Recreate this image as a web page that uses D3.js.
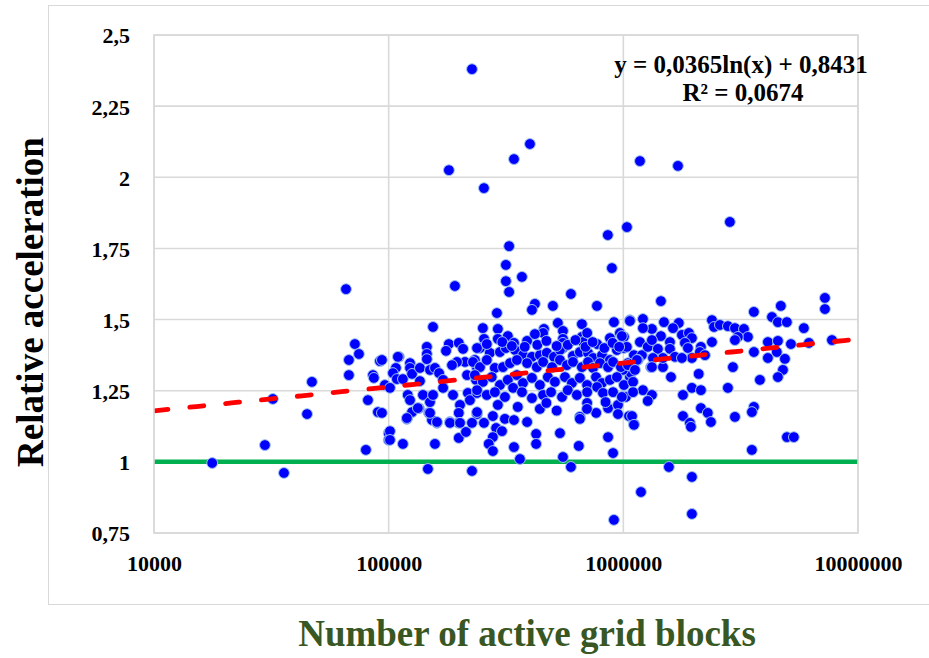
<!DOCTYPE html>
<html>
<head>
<meta charset="utf-8">
<script src="https://cdn.jsdelivr.net/npm/d3@7"></script>
<style>
  html, body { margin: 0; padding: 0; background: #fff; }
  svg { display: block; }
</style>
</head>
<body>
<svg id="chart" width="929" height="658"></svg>
<script>
// Simulation runs: [number of active grid blocks, relative acceleration]
const observations = [
  [17700,0.996],[29700,1.059],[32100,1.221],[35800,0.961],[44900,1.168],[47100,1.281],
  [65800,1.607],[71800,1.414],[74700,1.379],[67700,1.358],[67700,1.305],[85700,1.305],
  [86500,1.295],[91800,1.354],[81600,1.217],[90000,1.175],[93600,1.172],[80000,1.042],
  [96400,1.270],[100000,1.101],[100000,1.077],
  [226500,2.380],[180600,2.025],[342000,2.064],[400000,2.117],[254700,1.962],[326000,1.758],
  [316000,1.692],[859000,1.797],[1036000,1.825],[894000,1.681],[1177000,2.057],[1709000,2.040],
  [2845000,1.843],[316000,1.635],[326000,1.597],[369800,1.650],[191600,1.618],[598000,1.590],
  [420000,1.555],[408000,1.534],[501000,1.548],[772000,1.548],[289300,1.523],[154500,1.474],
  [1067000,1.498],[912000,1.491],[526000,1.488],[666000,1.484],[252000,1.470],[292000,1.467],
  [459000,1.467],[455000,1.453],[553000,1.460],[255000,1.432],[292000,1.432],[322000,1.442],
  [342000,1.418],[389000,1.425],[420000,1.449],[553000,1.432],[553000,1.418],[553000,1.400],
  [666000,1.439],[673000,1.421],[701000,1.453],[773000,1.414],[877000,1.435],[967000,1.453],
  [1006000,1.439],[145500,1.404],[180500,1.414],[199000,1.418],[207500,1.397],[245000,1.400],
  [175600,1.390],[110600,1.369],[93600,1.358],
  [101300,1.108],[101300,1.077],[115000,1.063],[119600,1.151],[125800,1.175],[134600,1.189],
  [148500,1.172],[153000,1.147],[160700,1.137],[157500,1.063],[147000,0.975],[182500,1.140],
  [199000,1.137],[199000,1.084],[213500,1.105],[238000,1.168],[226500,0.968],[254800,1.137],
  [278000,1.161],[287000,1.119],[304000,1.108],[278000,1.087],[267000,1.063],[278000,1.038],
  [313000,1.151],[342000,1.147],[342000,1.052],[362600,1.010],[389000,1.140],[425000,1.098],
  [425000,1.063],[441000,1.186],[537000,1.101],[553000,1.017],[598000,0.982],[646000,1.056],
  [653000,1.158],[653000,1.151],[701000,1.207],[766000,1.172],[861000,1.189],[861000,1.087],
  [904000,1.031],[949000,1.200],[949000,1.168],[912000,0.796],[1057000,1.161],[1110000,1.133],
  [1446000,1.565],[7230000,1.576],[7230000,1.537],[3600000,1.527],[4690000,1.548],[4300000,1.509],
  [4558000,1.491],[4975000,1.491],[5880000,1.470],[1067000,1.495],[1212000,1.502],[1490000,1.491],
  [1723000,1.488],[2386000,1.498],[2435000,1.474],[2580000,1.481],[2790000,1.477],[2990000,1.470],
  [3266000,1.467],[3395000,1.439],[3077000,1.439],[2990000,1.428],[1628000,1.470],[1324000,1.467],
  [1212000,1.470],[986000,1.442],[1446000,1.442],[1777000,1.446],[1903000,1.453],[1960000,1.435],
  [2386000,1.421],[2141000,1.404],[4131000,1.421],[4558000,1.425],[5179000,1.414],[6178000,1.418],
  [7746000,1.428],[3602000,1.386],[4131000,1.365],[4509000,1.386],[4881000,1.362],[4788000,1.323],
  [4558000,1.298],[3820000,1.288],[2931000,1.333],[2095000,1.309],[1596000,1.298],[1311000,1.333],
  [1475000,1.333],[1067000,1.298],[1078000,1.312],[2790000,1.260],[1960000,1.260],[2141000,1.252],
  [1795000,1.235],[1212000,1.252],[1324000,1.235],[1271000,1.214],[1025000,1.228],[2141000,1.189],
  [3602000,1.193],[3532000,1.175],[2290000,1.172],[2362000,1.140],[1795000,1.161],[2990000,1.158],
  [1922000,1.137],[1941000,1.123],[1089000,1.161],[1110000,1.130],[4980000,1.087],[5330000,1.087],
  [3530000,1.042],[1564000,0.982],[1960000,0.947],[1189000,0.894],[1960000,0.817],
  [1007000,1.400],[1110000,1.375],[1177000,1.421],[1200000,1.375],[1271000,1.404],[1324000,1.428],
  [1404000,1.397],[1580000,1.421],[1580000,1.397],[1830000,1.418],[1885000,1.400],[1660000,1.369],
  [1475000,1.365],[1337000,1.365],[1324000,1.333],[1154000,1.358],[1046000,1.347],[1960000,1.365],
  [1777000,1.365],[2120000,1.386],[2228000,1.375],[996000,1.323],
  [109500,1.369],[107400,1.330],[104300,1.312],[108400,1.291],[101300,1.260],[115000,1.291],
  [123300,1.347],[123300,1.330],[125800,1.309],[135900,1.330],[145500,1.379],[145500,1.361],
  [150000,1.323],[157500,1.330],[164000,1.312],[170600,1.288],[211500,1.351],[195500,1.351],
  [186200,1.340],[215800,1.305],[233000,1.358],[238000,1.330],[238000,1.400],[135900,1.284],
  [120600,1.235],[123300,1.217],[140000,1.235],[150000,1.210],[133200,1.189],[119600,1.154],
  [150000,1.172],[160700,1.140],[154500,1.235],[170600,1.260],[188000,1.235],[201400,1.200],
  [199000,1.172],[182500,1.137],[201400,1.137],[226500,1.137],[217600,1.242],[222000,1.217],
  [238000,1.242],[235600,1.288],[238000,1.175],
  [270000,1.383],[298000,1.386],[316000,1.400],[345500,1.393],[373500,1.375],[408000,1.369],
  [441000,1.375],[472000,1.383],[506500,1.369],[537000,1.393],[610000,1.372],[653000,1.386],
  [707000,1.383],[743000,1.365],[811000,1.375],[877000,1.358],[939000,1.393],[1035000,1.404],
  [1143000,1.358],
  [228700,1.351],[245000,1.333],[262000,1.358],[283500,1.330],[307000,1.333],[329000,1.347],
  [352000,1.358],[389000,1.347],[428000,1.333],[455000,1.351],[497000,1.333],[537000,1.358],
  [575000,1.340],[610000,1.351],[666000,1.333],[707000,1.351],[743000,1.330],[795000,1.347],
  [861000,1.333],[904000,1.351],[977000,1.333],[1046000,1.340],[1121000,1.323],
  [233000,1.305],[252000,1.281],[275000,1.298],[298000,1.270],[322000,1.288],[352000,1.305],
  [373500,1.277],[408000,1.295],[441000,1.270],[477000,1.298],[511000,1.281],[564000,1.298],
  [604000,1.277],[653000,1.295],[701000,1.270],[765000,1.298],[811000,1.277],[877000,1.288],
  [939000,1.298],[1006000,1.270],[1100000,1.281],
  [238000,1.252],[262000,1.235],[283500,1.245],[313000,1.228],[339000,1.260],[370000,1.245],
  [408000,1.224],[455000,1.235],[492000,1.245],[548000,1.228],[580000,1.252],[634000,1.235],
  [701000,1.245],[773000,1.263],[819000,1.242],[904000,1.245],[986000,1.228],[1100000,1.245],
  [262000,1.414],[305000,1.421],[335000,1.407],[380000,1.404],[430000,1.411],[470000,1.425],
  [520000,1.407],[580000,1.411],[625000,1.428],[690000,1.404],[740000,1.421],[830000,1.400],
  [900000,1.418],[960000,1.404],
  [292000,1.200],[355000,1.193],[470000,1.207],[520000,1.180],[700000,1.186],[840000,1.210]
];

const xTickValues = [10000, 100000, 1000000, 10000000];
const yTickValues = [0.75, 1, 1.25, 1.5, 1.75, 2, 2.25, 2.5];

// Logarithmic trend fitted to the runs: y = a·ln(x) + b
const trendSlope = 0.0365;
const trendIntercept = 0.8431;
const trendR2 = 0.0674;
const referenceLevel = 1;

const xTitle = "Number of active grid blocks";
const yTitle = "Relative acceleration";

const svg = d3.select("#chart");
const plot = { left: 154, right: 858, top: 35, bottom: 533 };

const x = d3.scaleLog().domain([1e4, 1e7]).range([plot.left, plot.right]);
const y = d3.scaleLinear().domain([0.75, 2.5]).range([plot.bottom, plot.top]);

const commaLocale = d3.formatLocale({ decimal: ",", thousands: "", grouping: [3], currency: ["", ""] });
const fmtY = commaLocale.format("~g");
const fmtX = d3.format("d");

const serif = "'Liberation Serif', 'Times New Roman', serif";
const grid = "#d9d9d9";

// outer chart frame
svg.append("rect")
  .attr("x", 48.5).attr("y", 5.5).attr("width", 884).attr("height", 599)
  .attr("fill", "#fff").attr("stroke", grid).attr("stroke-width", 1);

// gridlines
svg.append("g").selectAll("line").data(yTickValues).join("line")
  .attr("x1", plot.left).attr("x2", plot.right)
  .attr("y1", d => y(d)).attr("y2", d => y(d))
  .attr("stroke", grid).attr("stroke-width", 1.6);

svg.append("g").selectAll("line").data(xTickValues).join("line")
  .attr("y1", plot.top).attr("y2", plot.bottom)
  .attr("x1", d => x(d)).attr("x2", d => x(d))
  .attr("stroke", grid).attr("stroke-width", 1.6);

// axes (labels only)
const yAxis = svg.append("g")
  .attr("transform", `translate(${plot.left - 24},0)`)
  .call(d3.axisLeft(y).tickValues(yTickValues).tickFormat(fmtY).tickSize(0).tickPadding(0));
yAxis.select(".domain").remove();
yAxis.selectAll("text")
  .attr("font-family", serif).attr("font-weight", "bold").attr("font-size", 22)
  .attr("fill", "#000").attr("dy", "0.36em");

const xAxis = svg.append("g")
  .attr("transform", `translate(0,${plot.bottom + 22})`)
  .call(d3.axisBottom(x).tickValues(xTickValues).tickFormat(fmtX).tickSize(0).tickPadding(0));
xAxis.select(".domain").remove();
xAxis.selectAll("text")
  .attr("font-family", serif).attr("font-weight", "bold").attr("font-size", 22)
  .attr("fill", "#000").attr("dy", "0.71em");

svg.append("clipPath").attr("id", "plot-clip")
  .append("rect").attr("x", plot.left).attr("y", plot.top)
  .attr("width", plot.right - plot.left).attr("height", plot.bottom - plot.top);

// reference level y = 1
svg.append("line")
  .attr("x1", plot.left).attr("x2", plot.right)
  .attr("y1", y(referenceLevel)).attr("y2", y(referenceLevel))
  .attr("stroke", "#00b050").attr("stroke-width", 4.5);

// scatter points
svg.append("g").selectAll("circle").data(observations).join("circle")
  .attr("cx", d => x(d[0])).attr("cy", d => y(d[1]))
  .attr("r", 5.4)
  .attr("fill", "#0000ff")
  .attr("stroke", "#9ec3f0").attr("stroke-width", 1);

// logarithmic trendline
const trendX = d3.range(0, 101).map(i => Math.pow(10, 4 + 3 * i / 100));
const trendLine = d3.line()
  .x(d => x(d))
  .y(d => y(trendSlope * Math.log(d) + trendIntercept));
svg.append("path")
  .datum(trendX)
  .attr("d", trendLine)
  .attr("clip-path", "url(#plot-clip)")
  .attr("fill", "none").attr("stroke", "#ff0000").attr("stroke-width", 4.8)
  .attr("stroke-linecap", "round").attr("stroke-dasharray", "14,22");

// plot area border
svg.append("rect")
  .attr("x", plot.left).attr("y", plot.top)
  .attr("width", plot.right - plot.left).attr("height", plot.bottom - plot.top)
  .attr("fill", "none").attr("stroke", grid).attr("stroke-width", 1.6);

// trend equation
const fmt4 = commaLocale.format(".4f");
svg.append("text")
  .attr("x", 741).attr("y", 73).attr("text-anchor", "middle")
  .attr("font-family", serif).attr("font-weight", "bold").attr("font-size", 25)
  .text(`y = ${fmt4(trendSlope)}ln(x) + ${fmt4(trendIntercept)}`);
svg.append("text")
  .attr("x", 743).attr("y", 101).attr("text-anchor", "middle")
  .attr("font-family", serif).attr("font-weight", "bold").attr("font-size", 25)
  .text(`R² = ${fmt4(trendR2)}`);

// axis titles
svg.append("text")
  .attr("transform", "translate(43,302) rotate(-90)")
  .attr("text-anchor", "middle")
  .attr("font-family", serif).attr("font-weight", "bold").attr("font-size", 37)
  .attr("fill", "#000")
  .text(yTitle);

svg.append("text")
  .attr("x", 527).attr("y", 646).attr("text-anchor", "middle")
  .attr("font-family", serif).attr("font-weight", "bold").attr("font-size", 37)
  .attr("fill", "#385723")
  .text(xTitle);
</script>
</body>
</html>
